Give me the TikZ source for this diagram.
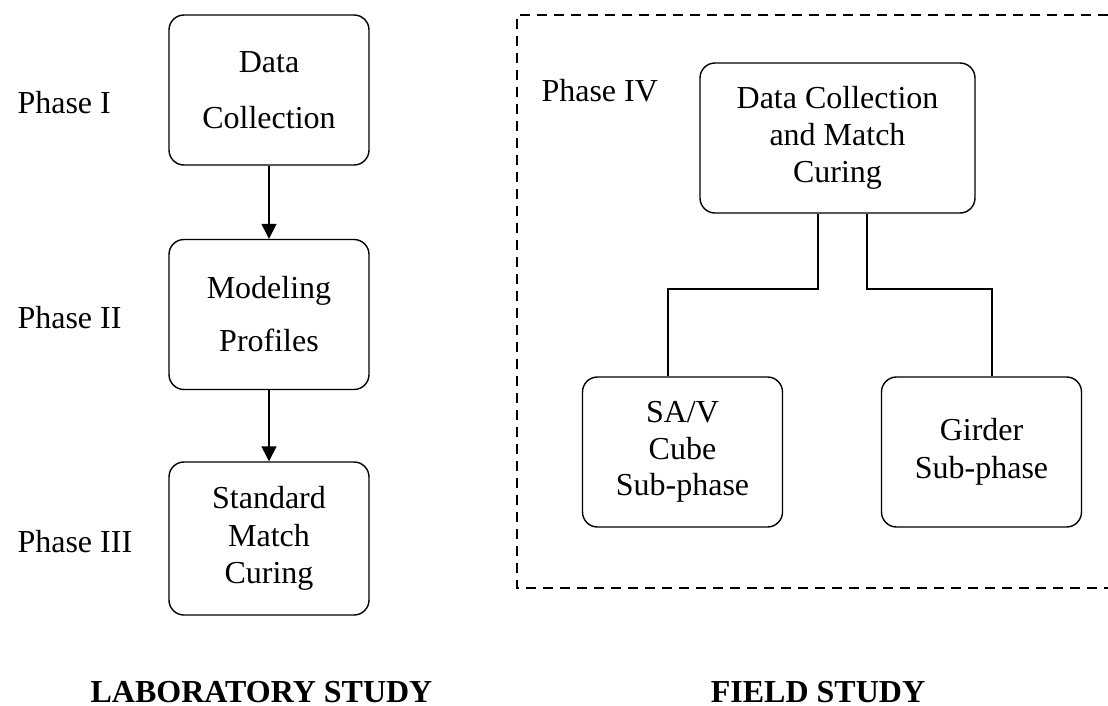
\documentclass[tikz,border=0pt]{standalone}
\usepackage{fontspec}
\setmainfont{Liberation Serif}
\usetikzlibrary{arrows.meta}
\begin{document}
\begin{tikzpicture}[x=1pt,y=-1pt,
  box/.style={draw, line width=1.4pt, rounded corners=15pt, minimum width=200pt, minimum height=150pt, inner sep=0pt, align=center},
  lbl/.style={anchor=base west, font=\fontsize{32}{38}\selectfont},
  title/.style={anchor=base, font=\fontsize{32}{38}\selectfont\bfseries},
  conn/.style={line width=1.4pt},
  arr/.style={line width=1.4pt, -{Triangle[length=15pt,width=15pt]}},
  frame/.style={line width=1.4pt, dash pattern=on 10pt off 7pt}]
\useasboundingbox (0,0) rectangle (1108,706);
% laboratory column
\node[box, font=\fontsize{32}{56}\selectfont] (d1) at (269,90) {Data\\Collection};
\node[box, font=\fontsize{32}{53}\selectfont] (d2) at (269,314.5) {Modeling\\Profiles};
\node[box, minimum height=153pt, font=\fontsize{32}{37.5}\selectfont] (d3) at (269,538.5) {Standard\\Match\\Curing};
\draw[arr] (d1) -- (d2);
\draw[arr] (d2) -- (d3);
\node[lbl] (p1) at (14,114) {Phase I};
\node[lbl] (p2) at (14,328) {Phase II};
\node[lbl] (p3) at (14,552) {Phase III};
% field study
\draw[frame] (1108,15) -- (517,15) -- (517,588) -- (1108,588);
\node[lbl] (p4) at (538,102) {Phase IV};
\node[box, minimum width=275pt, font=\fontsize{32}{37}\selectfont] (tb) at (837.5,138) {Data Collection\\and Match\\Curing};
\node[box, font=\fontsize{32}{36.5}\selectfont] (sav) at (682.5,452) {SA/V\\Cube\\Sub-phase};
\node[box, font=\fontsize{32}{38}\selectfont] (gird) at (981.5,452) {Girder\\Sub-phase};
\coordinate (j1) at (818,289);
\coordinate (j2) at (867,289);
\draw[conn] (tb.south -| j1) -- (j1) -| ([xshift=-14.5pt]sav.north);
\draw[conn] (tb.south -| j2) -- (j2) -| ([xshift=10.5pt]gird.north);
% titles
\node[title] (lab) at (261.5,702) {LABORATORY STUDY};
\node[title] (fld) at (818,702) {FIELD STUDY};
\end{tikzpicture}
\end{document}
